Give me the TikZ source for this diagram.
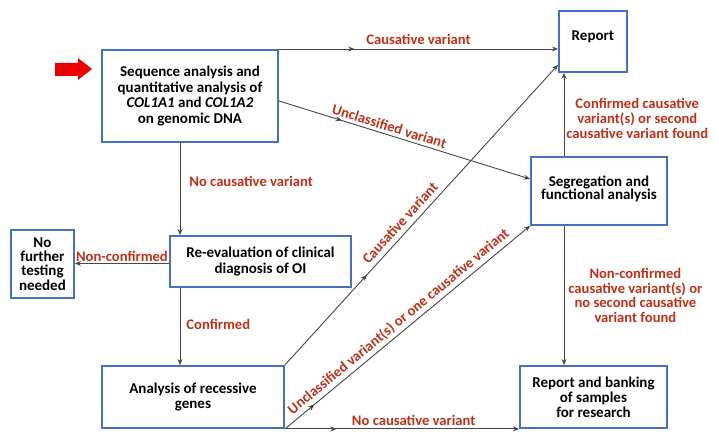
\documentclass[tikz,border=0pt]{standalone}
\usepackage{fontspec}
\setmainfont{Carlito}
\usetikzlibrary{arrows.meta,decorations.markings,calc}
\definecolor{boxblue}{RGB}{72,112,192}
\definecolor{lab}{RGB}{192,48,24}
\definecolor{ln}{RGB}{70,70,70}
\definecolor{bigred}{RGB}{232,0,0}
\begin{document}
\begin{tikzpicture}[x=1pt,y=-1pt,
  box/.style={draw=boxblue, line width=1.9pt, align=center, inner sep=2pt,
    font=\bfseries\fontsize{15}{15.6}\selectfont, anchor=north west},
  lbl/.style={text=lab, inner sep=1pt, align=center,
    font=\bfseries\fontsize{14.6}{14.7}\selectfont},
  conn/.style={draw=ln, line width=0.9pt, -{Stealth[length=6pt,width=5pt]}},
  midarr/.style={postaction={decorate},
    decoration={markings, mark=at position #1 with {\arrow{Stealth[length=6pt,width=5pt]}}}}]
\useasboundingbox (0,0) rectangle (719,443);
\fill[white] (0,0) rectangle (719,443);

% boxes
\node[box, minimum width=176pt, minimum height=92pt] (seq) at (101,49)
  {Sequence analysis and\\quantitative analysis of\\\textit{COL1A1} and \textit{COL1A2}\\on genomic DNA};
\node[box, minimum width=68pt, minimum height=61pt] (report) at (558,10) {Report\\[-4pt]};
\node[box, minimum width=136pt, minimum height=68pt, font=\bfseries\fontsize{15}{13.5}\selectfont] (seg) at (530,156)
  {Segregation and\\functional analysis\\[-7pt]};
\node[box, minimum width=181pt, minimum height=51pt] (reeval) at (169,235)
  {Re-evaluation of clinical\\diagnosis of OI};
\node[box, minimum width=63pt, minimum height=68pt, font=\bfseries\fontsize{15}{14.3}\selectfont] (nof) at (10,229)
  {No\\further\\testing\\needed};
\node[box, minimum width=182pt, minimum height=62pt] (rec) at (101,365)
  {Analysis of recessive\\genes};
\node[box, minimum width=147pt, minimum height=62pt, font=\bfseries\fontsize{15}{15}\selectfont] (bank) at (519,365)
  {Report and banking\\of samples\\for research};

% start arrow
\fill[bigred] (55,63) -- (78,63) -- (78,58) -- (92,69) -- (78,80) -- (78,76) -- (55,76) -- cycle;

\coordinate (hx) at (180,0);
\coordinate (vx) at (564,0);

% connectors
\draw[conn, midarr=0.27] (seq.north east) -- (seq.north east -| report.west)
  node[lbl, pos=0.5, above=3pt] (l1) {Causative variant};
\draw[conn, midarr=0.25] ([yshift=-5pt]seq.east) -- ([yshift=12pt]seg.west)
  node[lbl, sloped, pos=0.43, above=2pt] (l2) {Unclassified variant};
\draw[conn] (seq.south -| hx) -- (reeval.north -| hx)
  node[lbl, pos=0.42, right=8pt] (l3) {No causative variant};
\draw[conn] ([yshift=-2pt]reeval.west) -- ([yshift=-2pt]reeval.west -| nof.east)
  node[lbl, midway, above=0pt] (l4) {Non-confirmed};
\draw[conn] (reeval.south -| hx) -- (rec.north -| hx)
  node[lbl, pos=0.47, right=5pt] (l5) {Confirmed};
\draw[conn, midarr=0.3] (rec.north east) -- ([yshift=8pt]report.south west)
  node[lbl, sloped, pos=0.45, above=4pt] (l6) {Causative variant};
\draw[conn, midarr=0.12] (rec.south east) -- (seg.south west)
  node[lbl, sloped, pos=0.49, above=2pt] (l7) {Unclassified variant(s) or one causative variant};
\draw[conn, midarr=0.22] (rec.south east) -- (rec.south east -| bank.west)
  node[lbl, pos=0.55, above=2pt] (l8) {No causative variant};
\draw[conn] (seg.north -| vx) -- (report.south -| vx)
  node[lbl, pos=0.45, right=1pt] (l9) {Confirmed causative\\variant(s) or second\\causative variant found};
\draw[conn] (seg.south -| vx) -- (bank.north -| vx)
  node[lbl, pos=0.5, right=3pt] (l10) {Non-confirmed\\causative variant(s) or\\no second causative\\variant found};
\end{tikzpicture}
\end{document}
